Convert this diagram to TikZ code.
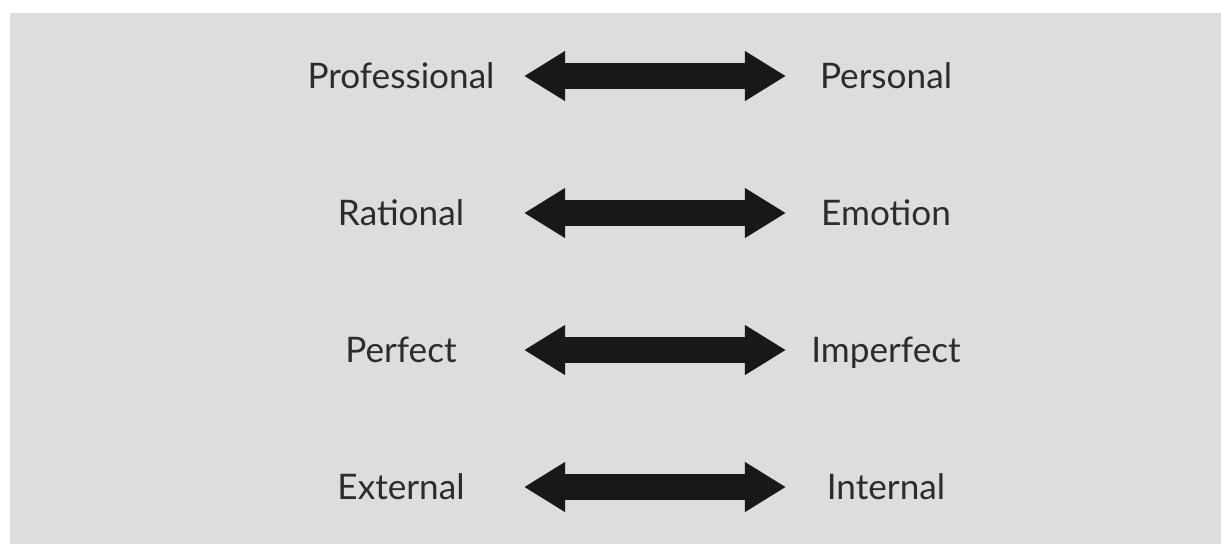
\documentclass[tikz,border=0pt]{standalone}
\usepackage{fontspec}
\setmainfont{Lato}
\usetikzlibrary{arrows.meta}

\definecolor{panelgray}{HTML}{DCDDDF}
\definecolor{inkgray}{HTML}{2B2B30}
\definecolor{arrowblack}{HTML}{1A1718}

\begin{document}
\begin{tikzpicture}[x=0.01cm, y=-0.01cm,
    pole/.style={font=\fontsize{10}{12}\selectfont, text=inkgray, anchor=base, inner sep=0pt},
    bothways/.style={arrowblack, line width=0.26cm,
      {Triangle[length=0.41cm, width=0.47cm]}-{Triangle[length=0.41cm, width=0.47cm]}}]
  \useasboundingbox (0,0) rectangle (1221,544);
  \fill[panelgray] (10,13) rectangle (1221,544);

  % one row per pair of opposites
  \foreach \lt/\rt [count=\i] in {Professional/Personal, Rational/Emotion,
      Perfect/Imperfect, External/Internal} {
    \pgfmathsetmacro\yy{76+137*(\i-1)}
    \node[pole] (lft\i) at (401,\yy+12) {\lt};
    \node[pole] (rgt\i) at (886,\yy+12) {\rt};
    \coordinate (tipl\i) at (524,\yy);
    \coordinate (tipr\i) at (786,\yy);
    \draw[bothways] (tipl\i) -- (tipr\i);
  }
\end{tikzpicture}
\end{document}
